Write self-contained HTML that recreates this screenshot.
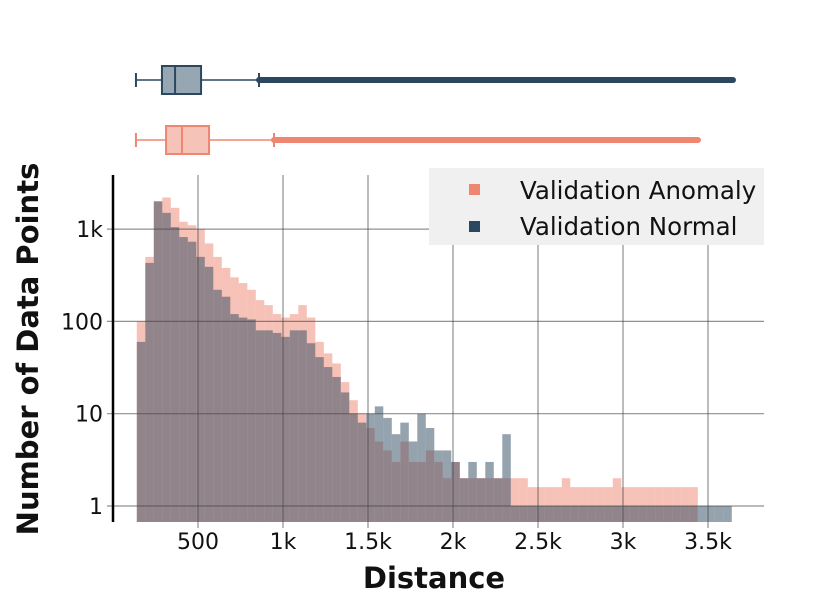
<!DOCTYPE html>
<html><head><meta charset="utf-8"><style>
html,body{margin:0;padding:0;background:#fff;}
svg{display:block;font-family:"DejaVu Sans","Liberation Sans",sans-serif;}
</style></head><body>
<svg id="chart" width="830" height="598" viewBox="0 0 830 598">
<g id="bars"></g>
<g id="grid"></g>
<g id="axes"></g>
<g id="box"></g>
<g>
<rect x="429" y="168" width="335" height="77" fill="#f0f0f0"/>
<g>
<rect x="469" y="184" width="11" height="11" fill="#ee8672"/>
<text x="520" y="199" font-size="24.5" fill="#111">Validation Anomaly</text></g>
<g>
<rect x="469" y="221" width="11" height="11" fill="#2c4860"/>
<text x="520" y="235" font-size="24.5" fill="#111">Validation Normal</text></g>
</g>
<text x="434" y="588" font-size="29" font-weight="bold" text-anchor="middle" fill="#111">Distance</text>
<text transform="translate(38,349) rotate(-90)" font-size="29" font-weight="bold" text-anchor="middle" fill="#111">Number of Data Points</text>
</svg>
<script>
const binStart = 140;
const binWidth = 50;
const anomalyCounts = [100,500,2000,2200,1700,1200,1100,1000,700,500,380,300,260,220,170,150,120,110,120,150,110,60,45,35,22,14,10,7,5,4,3,5,3,3,4,3,2,3,2,2,2,2,2,2,2,2,1.6,1.6,1.6,1.6,2,1.6,1.6,1.6,1.6,1.6,2,1.6,1.6,1.6,1.6,1.6,1.6,1.6,1.6,1.6,0,0,0,0];
const normalCounts = [60,430,2000,1500,1050,820,730,500,390,220,185,120,110,105,80,80,75,68,80,80,58,41,32,25,17,10,8,10,12,9,6,8,5,10,7,4,4,3,2,3,2,3,2,6,1,1,1,1,1,1,1,1,1,1,1,1,1,1,1,1,1,1,1,1,1,1,1,1,1,1];
const xTicks = [500,1000,1500,2000,2500,3000,3500];
const xTickLabels = ["500","1k","1.5k","2k","2.5k","3k","3.5k"];
const yTicks = [1,10,100,1000];
const yTickLabels = ["1","10","100","1k"];
// boxplot stats: [whiskerLow, q1, median, q3, whiskerHigh, max]
const normalBox = [135,288,365,518,859,3647];
const anomalyBox = [135,312,406,565,947,3441];

const X0=113, XR=764, YT=175, YB=522;
const xs = v => 113 + v*0.17;
const ys = v => 506 - Math.log10(v)*92.3;
const NS='http://www.w3.org/2000/svg';
function mk(tag, attrs, parent){const e=document.createElementNS(NS,tag);for(const k in attrs)e.setAttribute(k,attrs[k]);parent.appendChild(e);return e;}

const bars=document.getElementById('bars');
function drawSeries(counts, color, name){
  counts.forEach((c,i)=>{
    if(c<=0) return;
    const x1=xs(binStart+i*binWidth), x2=xs(binStart+(i+1)*binWidth);
    const y=ys(c);
    const r=mk('rect',{x:x1,y:y,width:x2-x1,height:YB-y,fill:color},bars);
    
    
  });
}
drawSeries(anomalyCounts,'rgba(238,132,112,0.5)','anomaly');
drawSeries(normalCounts,'rgba(44,72,96,0.5)','normal');

const grid=document.getElementById('grid');
xTicks.forEach((t,i)=>{
  const l=mk('line',{x1:xs(t),x2:xs(t),y1:YT,y2:YB+6,stroke:'rgba(70,70,70,0.6)','stroke-width':1.2},grid);
  
  
  const tx=mk('text',{x:xs(t),y:549,'font-size':22,'text-anchor':'middle',fill:'#111'},grid);
  tx.textContent=xTickLabels[i];
  
  
});
yTicks.forEach((t,i)=>{
  const l=mk('line',{x1:X0-6,x2:XR,y1:ys(t),y2:ys(t),stroke:'rgba(70,70,70,0.6)','stroke-width':1.2},grid);
  
  
  const tx=mk('text',{x:103,y:ys(t)+8,'font-size':22,'text-anchor':'end',fill:'#111'},grid);
  tx.textContent=yTickLabels[i];
  
  
});
const axes=document.getElementById('axes');
const sp=mk('line',{x1:X0,x2:X0,y1:YT,y2:YB,stroke:'#000','stroke-width':2.5},axes);



const box=document.getElementById('box');
function drawBox(s, cy, stroke, fill, name){
  const g=mk('g',{},box);
  
  
  mk('line',{x1:xs(s[4]),x2:xs(s[5]),y1:cy,y2:cy,stroke:stroke,'stroke-width':6,'stroke-linecap':'round'},g);
  mk('line',{x1:xs(s[0]),x2:xs(s[1]),y1:cy,y2:cy,stroke:stroke,'stroke-width':1.5},g);
  mk('line',{x1:xs(s[3]),x2:xs(s[4]),y1:cy,y2:cy,stroke:stroke,'stroke-width':1.5},g);
  mk('line',{x1:xs(s[0]),x2:xs(s[0]),y1:cy-7,y2:cy+7,stroke:stroke,'stroke-width':2},g);
  mk('line',{x1:xs(s[4]),x2:xs(s[4]),y1:cy-7,y2:cy+7,stroke:stroke,'stroke-width':2},g);
  mk('rect',{x:xs(s[1]),y:cy-14,width:xs(s[3])-xs(s[1]),height:28,fill:fill,stroke:stroke,'stroke-width':2},g);
  mk('line',{x1:xs(s[2]),x2:xs(s[2]),y1:cy-14,y2:cy+14,stroke:stroke,'stroke-width':2},g);
}
drawBox(normalBox,80,'#2c4860','#97a6b3','normal');
drawBox(anomalyBox,140,'#ee8672','#f6c3b9','anomaly');
</script>
</body></html>
